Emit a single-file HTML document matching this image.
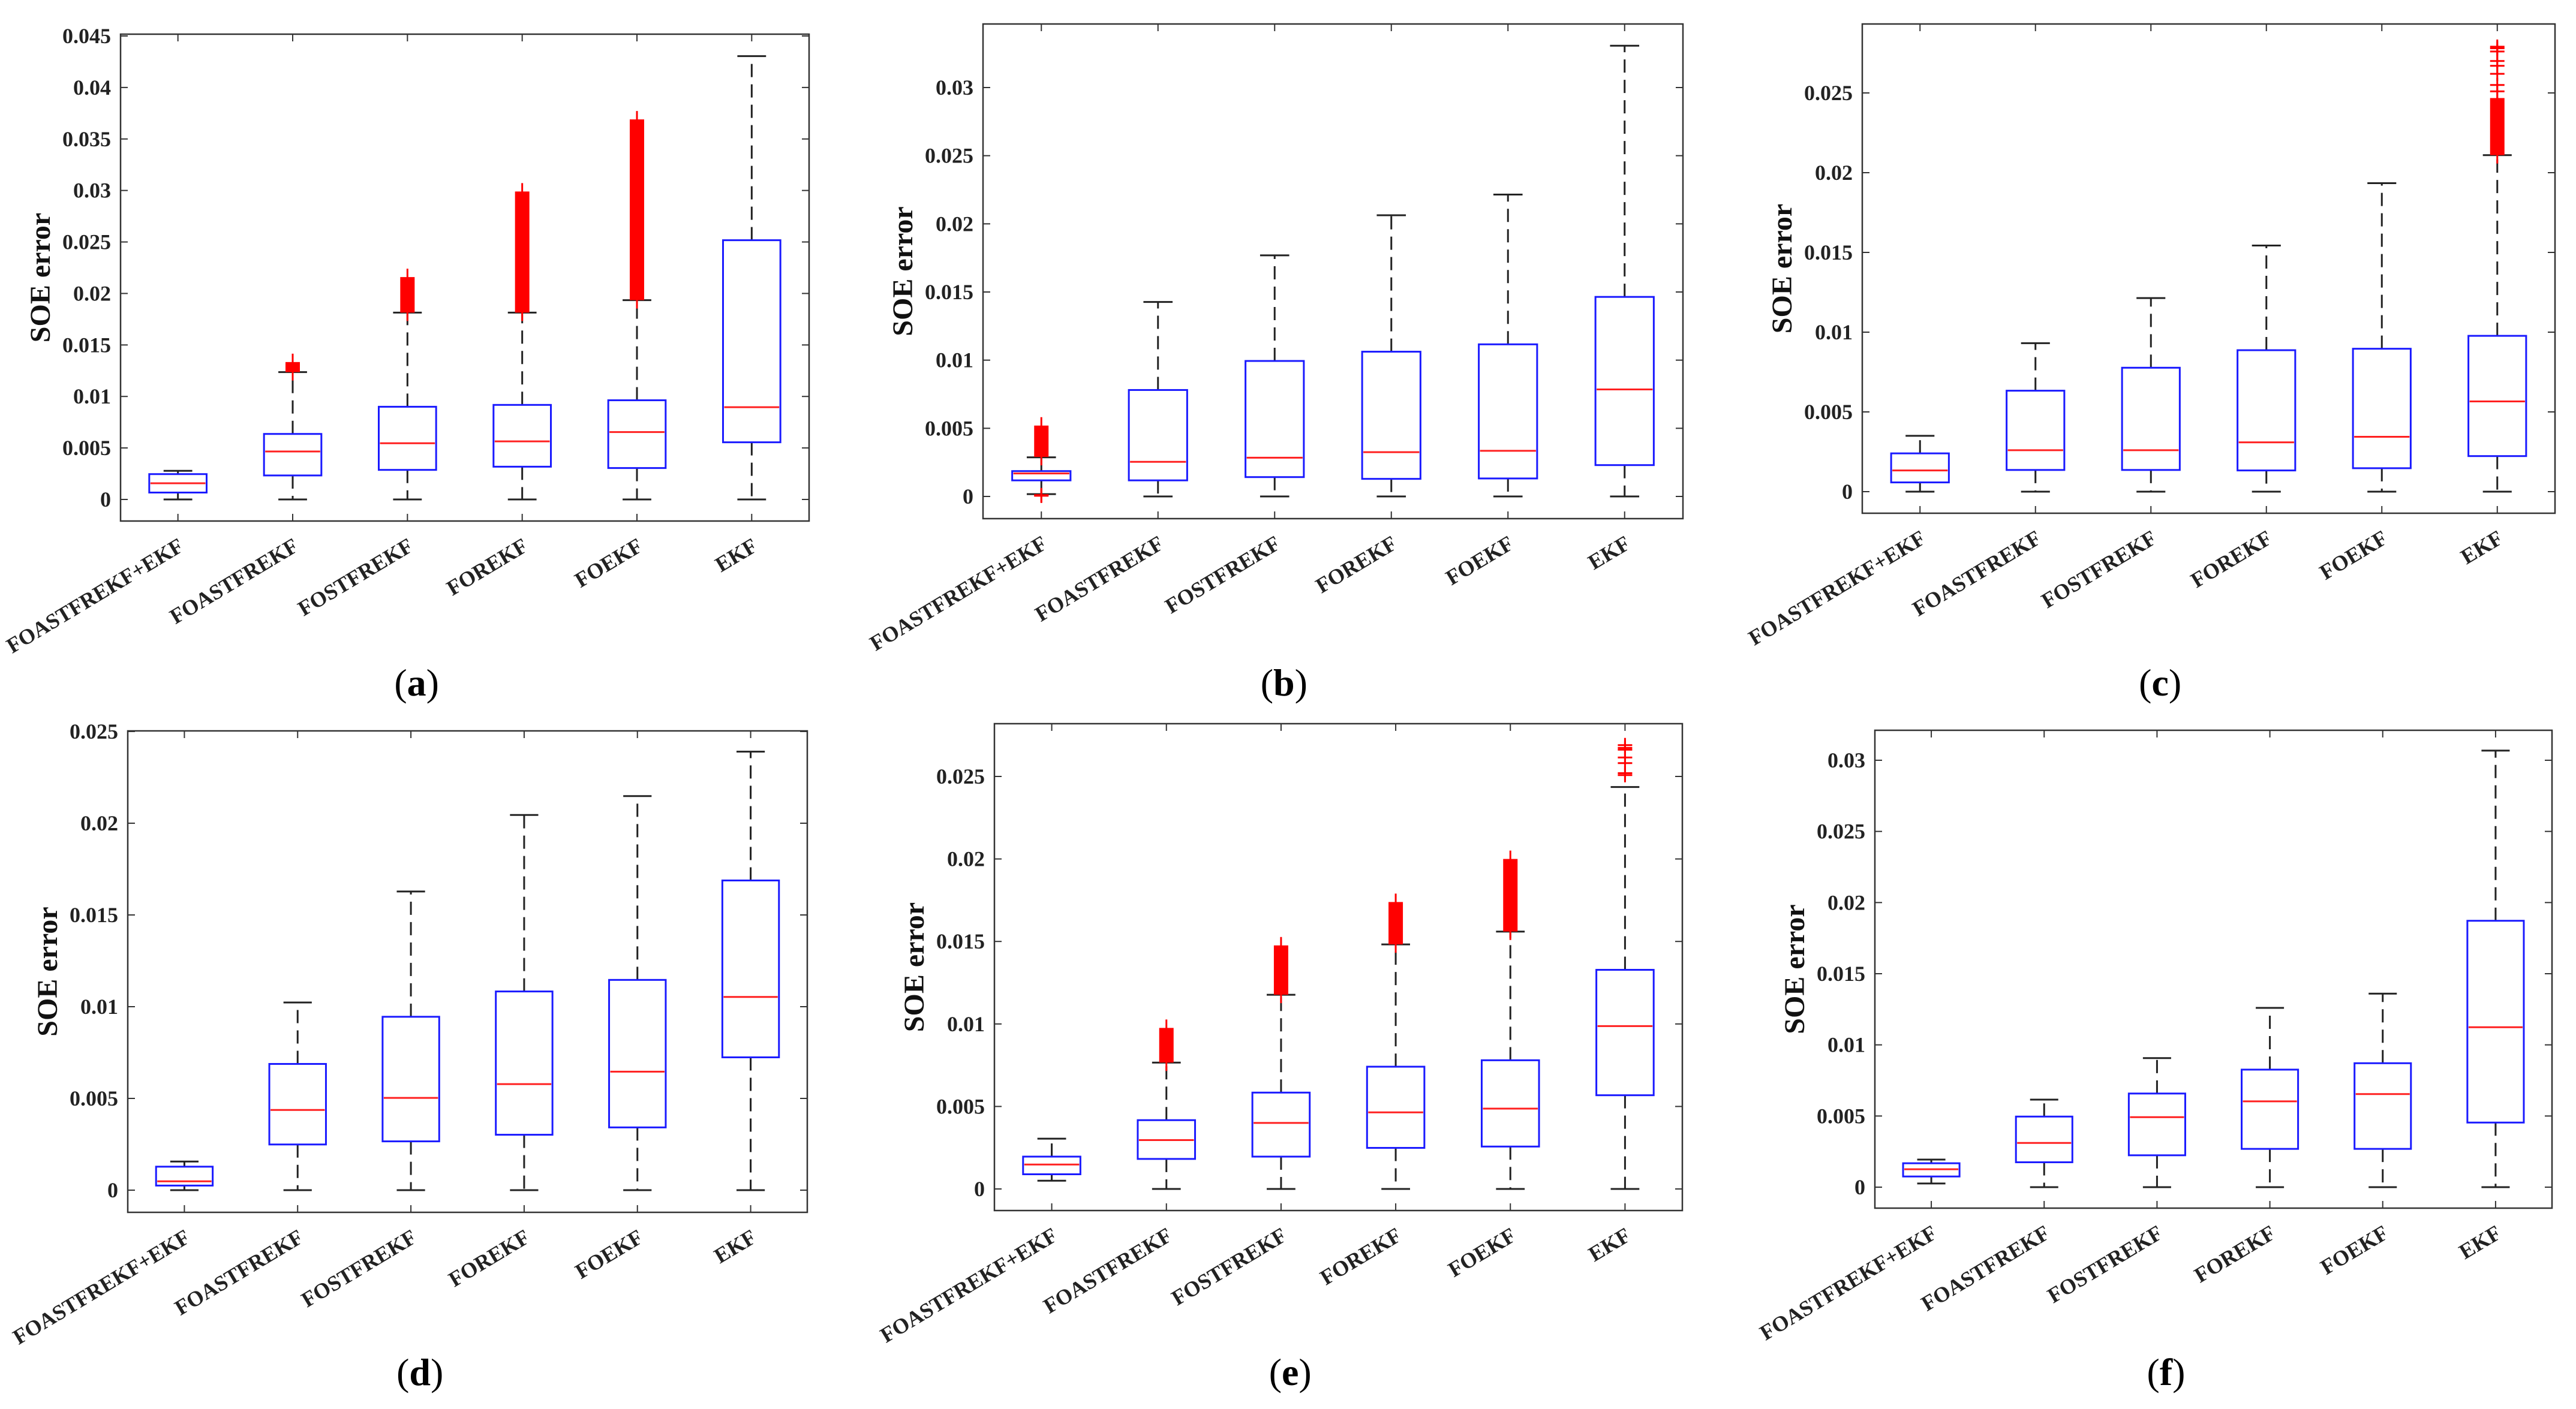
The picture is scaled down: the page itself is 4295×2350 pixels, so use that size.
<!DOCTYPE html>
<html><head><meta charset="utf-8">
<style>
html,body{margin:0;padding:0;background:#fff;}
svg{display:block;font-family:"Liberation Serif","Times New Roman",serif;}
text,tspan{font-family:"Liberation Serif","Times New Roman",serif;}
</style></head>
<body>
<svg id="fig" width="4295" height="2350" viewBox="0 0 4295 2350" font-family="Liberation Serif, serif" xmlns="http://www.w3.org/2000/svg"></svg>
<script>
// ---------- data ----------
const categories = ["FOASTFREKF+EKF","FOASTFREKF","FOSTFREKF","FOREKF","FOEKF","EKF"];
const panelLetters = ["a","b","c","d","e","f"];
const yMax = [0.045,0.03,0.025,0.025,0.025,0.03];
const yTickStep = 0.005;

// panel a
const aQ1  = [0.00067,0.00233,0.00287,0.00318,0.00305,0.00555];
const aMed = [0.00157,0.00466,0.00546,0.00564,0.00654,0.00896];
const aQ3  = [0.00246,0.00636,0.00900,0.00918,0.00963,0.02517];
const aWLo = [0,0,0,0,0,0];
const aWHi = [0.00278,0.01236,0.01814,0.01814,0.01935,0.04304];
const aOutLo = [null,0.01236,0.01814,0.01814,0.01935,null];
const aOutHi = [null,0.01334,0.02159,0.02990,0.03690,null];
const aOutPts = [[],[],[],[],[],[]];
// panel b
const bQ1  = [0.00118,0.00118,0.00142,0.00129,0.00132,0.00230];
const bMed = [0.00169,0.00254,0.00284,0.00325,0.00335,0.00785];
const bQ3  = [0.00186,0.00781,0.00994,0.01062,0.01116,0.01464];
const bWLo = [0.00017,0,0,0,0,0];
const bWHi = [0.00287,0.01427,0.01769,0.02063,0.02215,0.03307];
const bOutLo = [0.00290,null,null,null,null,null];
const bOutHi = [0.00520,null,null,null,null,null];
const bOutPts = [[0.00005,0.0001],[],[],[],[],[]];
// panel c
const cQ1  = [0.00058,0.00136,0.00136,0.00133,0.00147,0.00223];
const cMed = [0.00133,0.00260,0.00260,0.00309,0.00344,0.00566];
const cQ3  = [0.00240,0.00633,0.00777,0.00887,0.00896,0.00977];
const cWLo = [0,0,0,0,0,0];
const cWHi = [0.00350,0.00931,0.01214,0.01543,0.01934,0.02110];
const cOutLo = [null,null,null,null,null,0.02110];
const cOutHi = [null,null,null,null,null,0.02468];
const cOutPts = [[],[],[],[],[],[0.0279,0.0278,0.0276,0.0270,0.0267,0.0262,0.0255,0.0251]];
// panel d
const dQ1  = [0.00025,0.00249,0.00266,0.00302,0.00342,0.00724];
const dMed = [0.00048,0.00437,0.00503,0.00578,0.00646,0.01053];
const dQ3  = [0.00128,0.00688,0.00945,0.01083,0.01146,0.01688];
const dWLo = [0,0,0,0,0,0];
const dWHi = [0.00156,0.01023,0.01628,0.02045,0.02148,0.02390];
const dOutLo = [null,null,null,null,null,null];
const dOutHi = [null,null,null,null,null,null];
const dOutPts = [[],[],[],[],[],[]];
// panel e
const eQ1  = [0.00089,0.00182,0.00196,0.00249,0.00257,0.00568];
const eMed = [0.00148,0.00296,0.00400,0.00464,0.00487,0.00987];
const eQ3  = [0.00196,0.00417,0.00584,0.00741,0.00780,0.01328];
const eWLo = [0.00050,0,0,0,0,0];
const eWHi = [0.00305,0.00766,0.01177,0.01482,0.01560,0.02436];
const eOutLo = [null,0.00766,0.01177,0.01482,0.01560,null];
const eOutHi = [null,0.00976,0.01476,0.01739,0.02000,null];
const eOutPts = [[],[],[],[],[],[0.0269,0.02673,0.02662,0.02615,0.02581,0.0252,0.02508]];
// panel f
const fQ1  = [0.00075,0.00175,0.00224,0.00269,0.00269,0.00454];
const fMed = [0.00126,0.00311,0.00492,0.00603,0.00654,0.01124];
const fQ3  = [0.00168,0.00496,0.00658,0.00826,0.00871,0.01872];
const fWLo = [0.00026,0,0,0,0,0];
const fWHi = [0.00194,0.00615,0.00907,0.01260,0.01360,0.03068];
const fOutLo = [null,null,null,null,null,null];
const fOutHi = [null,null,null,null,null,null];
const fOutPts = [[],[],[],[],[],[]];

const panelData = [
  [aQ1,aMed,aQ3,aWLo,aWHi,aOutLo,aOutHi,aOutPts],
  [bQ1,bMed,bQ3,bWLo,bWHi,bOutLo,bOutHi,bOutPts],
  [cQ1,cMed,cQ3,cWLo,cWHi,cOutLo,cOutHi,cOutPts],
  [dQ1,dMed,dQ3,dWLo,dWHi,dOutLo,dOutHi,dOutPts],
  [eQ1,eMed,eQ3,eWLo,eWHi,eOutLo,eOutHi,eOutPts],
  [fQ1,fMed,fQ3,fWLo,fWHi,fOutLo,fOutHi,fOutPts]
];

// ---------- layout (pixels) ----------
const frames = [
  {L:201, R:1349, T:57,  B:869,  y0:833,  yTop:60},
  {L:1639,R:2806, T:40,  B:865,  y0:828,  yTop:146},
  {L:3105,R:4260, T:40,  B:856,  y0:820,  yTop:155},
  {L:213, R:1346, T:1219,B:2022, y0:1985, yTop:1220},
  {L:1658,R:2805, T:1207,B:2019, y0:1983, yTop:1295},
  {L:3126,R:4255, T:1218,B:2015, y0:1980, yTop:1268}
];
const captionY = [1160,1160,1160,2310,2310,2310];
const FF = "Liberation Serif, serif";

const NS = "http://www.w3.org/2000/svg";
const svg = document.getElementById("fig");
function mk(tag, attrs, parent){
  const e = document.createElementNS(NS, tag);
  for (const k in attrs) e.setAttribute(k, attrs[k]);
  (parent||svg).appendChild(e);
  return e;
}

frames.forEach((fr, p) => {
  const [q1,med,q3,wlo,whi,olo,ohi,opts] = panelData[p];
  const letter = panelLetters[p];
  const g = mk("g", {"font-family":FF});
  
  
  const W = fr.R - fr.L;
  const xS = i => fr.L + (i + 0.5) * W / 6;
  const yS = v => fr.y0 - v / yMax[p] * (fr.y0 - fr.yTop);
  const boxW = W / 6 * 0.5, capW = W / 6 * 0.25;

  const nT = Math.round(yMax[p] / yTickStep);
  for (let k = 0; k <= nT; k++) {
    const v = k * yTickStep, y = yS(v);
    const t1 = mk("line", {x1:fr.L, x2:fr.L+12, y1:y, y2:y, stroke:"#333", "stroke-width":2}, g);
    
    
    const t2 = mk("line", {x1:fr.R-12, x2:fr.R, y1:y, y2:y, stroke:"#333", "stroke-width":2}, g);
    
    
    const lbl = mk("text", {x:fr.L-16, y:y+12, "text-anchor":"end", "font-family":FF, "font-size":36, "font-weight":"bold", fill:"#222"}, g);
    lbl.textContent = k === 0 ? "0" : String(+v.toFixed(3));
    
    
  }

  const yl = mk("text", {x:0, y:0, "text-anchor":"middle", "font-family":FF, "font-size":48, "font-weight":"bold", fill:"#111",
    transform:`translate(${fr.L-118},${(fr.T+fr.B)/2}) rotate(-90)`}, g);
  yl.textContent = "SOE error";
  
  

  categories.forEach((c, i) => {
    const x = xS(i);
    const tb = mk("line", {x1:x, x2:x, y1:fr.B, y2:fr.B-12, stroke:"#333", "stroke-width":2}, g);
    
    
    const tt = mk("line", {x1:x, x2:x, y1:fr.T, y2:fr.T+12, stroke:"#333", "stroke-width":2}, g);
    
    
    const xl = mk("text", {x:0, y:0, "text-anchor":"end", "font-family":FF, "font-size":36, "font-weight":"bold", fill:"#222",
      transform:`translate(${x+12},${fr.B+48}) rotate(-31)`}, g);
    xl.textContent = c;
    
    

    const wu = mk("line", {x1:x, x2:x, y1:yS(q3[i]), y2:yS(whi[i]), stroke:"#222", "stroke-width":3, "stroke-dasharray":"22 12"}, g);
    
    
    const wd = mk("line", {x1:x, x2:x, y1:yS(q1[i]), y2:yS(wlo[i]), stroke:"#222", "stroke-width":3, "stroke-dasharray":"22 12"}, g);
    
    
    const cu = mk("line", {x1:x-capW/2, x2:x+capW/2, y1:yS(whi[i]), y2:yS(whi[i]), stroke:"#222", "stroke-width":3}, g);
    
    
    const cl = mk("line", {x1:x-capW/2, x2:x+capW/2, y1:yS(wlo[i]), y2:yS(wlo[i]), stroke:"#222", "stroke-width":3}, g);
    
    

    const bx = mk("rect", {x:x-boxW/2, y:yS(q3[i]), width:boxW, height:yS(q1[i])-yS(q3[i]), fill:"none", stroke:"#1a1aff", "stroke-width":3}, g);
    
    
    const md = mk("line", {x1:x-boxW/2+2, x2:x+boxW/2-2, y1:yS(med[i]), y2:yS(med[i]), stroke:"#ff2020", "stroke-width":3}, g);
    
    

    if (olo[i] !== null) {
      const ol = mk("line", {x1:x, x2:x, y1:yS(olo[i])+14, y2:yS(ohi[i])-14, stroke:"#ff0000", "stroke-width":3}, g);
      
      
      const ob = mk("rect", {x:x-12, y:yS(ohi[i]), width:24, height:yS(olo[i])-yS(ohi[i]), fill:"#ff0000"}, g);
      
      
    }
    opts[i].forEach(v => {
      const y = yS(v);
      const h = mk("line", {x1:x-12, x2:x+12, y1:y, y2:y, stroke:"#ff0000", "stroke-width":3}, g);
      
      
      const vv = mk("line", {x1:x, x2:x, y1:y-12, y2:y+12, stroke:"#ff0000", "stroke-width":3}, g);
      
      
    });
  });

  const fm = mk("rect", {x:fr.L, y:fr.T, width:W, height:fr.B-fr.T, fill:"none", stroke:"#333", "stroke-width":2.5}, g);
  
  

  const cap = mk("text", {x:fr.L + W*0.43, y:captionY[p], "text-anchor":"middle", "font-family":FF, "font-size":64, fill:"#000"}, g);
  
  
  const t1 = mk("tspan", {}, cap); t1.textContent = "(";
  const t2 = mk("tspan", {"font-weight":"bold"}, cap); t2.textContent = letter;
  const t3 = mk("tspan", {}, cap); t3.textContent = ")";
});
</script>
</body></html>
